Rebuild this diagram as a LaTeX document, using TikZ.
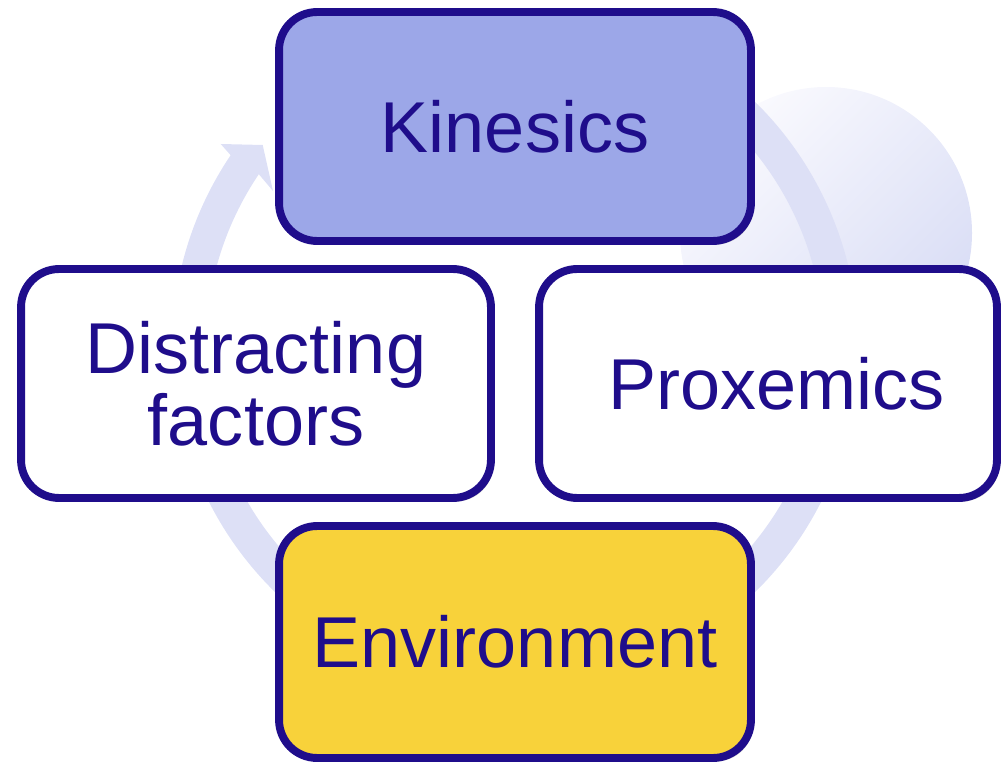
\documentclass[tikz,border=0pt]{standalone}
\usepackage{fontspec}
\setmainfont{Liberation Sans}
\usetikzlibrary{calc,shadows}
\definecolor{cyclenavy}{RGB}{31,13,139}
\definecolor{kinfill}{RGB}{156,167,232}
\definecolor{envfill}{RGB}{248,210,58}
\definecolor{cyclering}{RGB}{221,224,246}
\definecolor{discpale}{RGB}{250,250,254}
\definecolor{discdeep}{RGB}{216,220,245}

\begin{document}
\begin{tikzpicture}[x=0.02cm, y=-0.02cm,
    cyclebox/.style={draw=cyclenavy, line width=4.5pt, rounded corners=0.76cm,
        text=cyclenavy, font=\fontsize{41}{41}\selectfont, align=center,
        minimum width=9.44cm, minimum height=4.58cm, inner sep=0pt,
        drop shadow={shadow xshift=1.5pt, shadow yshift=-2pt, opacity=0.25, fill=black}}]
    \useasboundingbox (0,0) rectangle (1003,763);

    % Shaded disc behind the cycle
    \coordinate (D) at (826,233);
    \shade[top color=discpale, bottom color=discdeep, shading angle=45] (D) circle (146);

    % Circular arrow, clockwise, head at the upper left
    \coordinate (C) at (515,347);
    \fill[cyclering] ($(C)+(290:343)$) arc (290:574:343)
        -- (220.7,144) -- (262.7,145) -- (273,191)
        -- ($(C)+(574:309)$) arc (574:290:309) -- cycle;

    % Boxes
    \node[cyclebox, fill=kinfill] (kin) at (515,126.5) {Kinesics};
    \node[cyclebox, fill=white, minimum width=9.4cm] (dist) at (256,383.5) {Distracting\\factors};
    \node[cyclebox, fill=white, minimum width=9.16cm] (prox) at (768,383.5) {\hspace*{10pt}Proxemics};
    \node[cyclebox, fill=envfill, minimum height=4.64cm] (env) at (515,642) {Environment};
\end{tikzpicture}
\end{document}
